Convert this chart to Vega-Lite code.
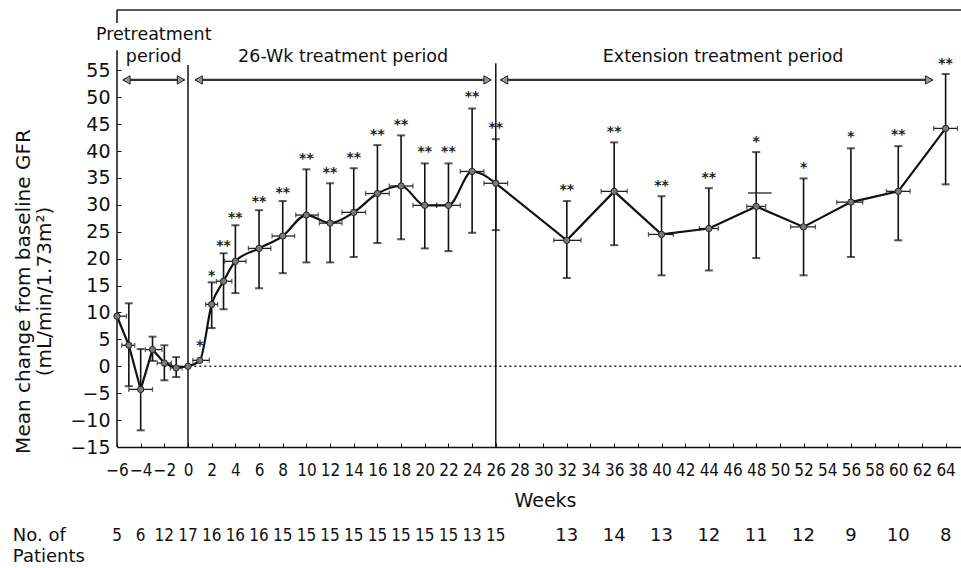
{
  "$schema": "https://vega.github.io/schema/vega-lite/v6.json",
  "width": 844,
  "height": 437,
  "autosize": {"type": "none"},
  "padding": {"left": 117, "top": 10, "right": 0, "bottom": 121},
  "background": "white",
  "config": {
    "view": {"stroke": null},
    "font": "DejaVu Sans",
    "axis": {"grid": false, "labelColor": "#111", "tickColor": "#111", "domainColor": "#111", "titleColor": "#111"},
    "axisX": {
      "domainWidth": 1.5,
      "tickSize": -4,
      "tickWidth": 1,
      "labelFont": "Liberation Sans Narrow, DejaVu Sans Condensed, sans-serif",
      "labelFontSize": 17,
      "labelBaseline": "alphabetic",
      "labelPadding": 32,
      "labelFlush": false,
      "labelOverlap": false,
      "labelBound": false,
      "titleFont": "DejaVu Sans",
      "titleFontSize": 19,
      "titleFontWeight": "normal",
      "titleX": 428,
      "titleY": 53,
      "titleBaseline": "middle"
    },
    "axisY": {
      "domain": false,
      "tickSize": -4,
      "tickWidth": 1,
      "labelFont": "DejaVu Sans",
      "labelFontSize": 19,
      "labelPadding": 11,
      "labelFlush": false,
      "labelOverlap": false,
      "labelBound": false,
      "titleFont": "DejaVu Sans",
      "titleFontSize": 20,
      "titleFontWeight": "normal",
      "titleAngle": -90,
      "titleAlign": "center",
      "titleBaseline": "top",
      "titleLineHeight": 21,
      "titleX": -104,
      "titleY": 281
    }
  },
  "datasets": {
    "series": [
      {"week": -6, "val": 9.3, "xlo": -6, "xhi": -5.2},
      {"week": -5, "val": 3.9, "lo": -3.7, "hi": 11.7, "xlo": -5.6, "xhi": -4.5},
      {"week": -4, "val": -4.3, "lo": -11.9, "hi": 3.2, "xlo": -5.0, "xhi": -3.0},
      {"week": -3, "val": 3.1, "lo": 1.0, "hi": 5.5, "xlo": -3.6, "xhi": -2.2},
      {"week": -2, "val": 0.6, "lo": -2.6, "hi": 3.9, "xlo": -2.6, "xhi": -1.4},
      {"week": -1, "val": -0.3, "lo": -2.0, "hi": 1.7, "xlo": -1.5, "xhi": -0.5},
      {"week": 0, "val": 0.0},
      {"week": 1, "val": 1.1, "xlo": 0.4, "xhi": 1.8, "sig": "*", "sigY": 4.5},
      {"week": 2, "val": 11.5, "lo": 7.1, "hi": 15.6, "xlo": 1.5, "xhi": 2.5, "sig": "*", "sigY": 17.5},
      {"week": 3, "val": 15.8, "lo": 10.6, "hi": 21.0, "xlo": 2.4, "xhi": 3.7, "sig": "**", "sigY": 23.0},
      {"week": 4, "val": 19.5, "lo": 13.6, "hi": 26.2, "xlo": 3.1, "xhi": 4.9, "sig": "**", "sigY": 28.3},
      {"week": 6, "val": 21.9, "lo": 14.5, "hi": 29.0, "xlo": 5.1, "xhi": 7.0, "sig": "**", "sigY": 31.2},
      {"week": 8, "val": 24.2, "lo": 17.3, "hi": 30.7, "xlo": 7.1, "xhi": 9.0, "sig": "**", "sigY": 33.0},
      {"week": 10, "val": 28.1, "lo": 19.3, "hi": 36.6, "xlo": 9.1, "xhi": 11.0, "sig": "**", "sigY": 39.2},
      {"week": 12, "val": 26.6, "lo": 19.3, "hi": 34.0, "xlo": 11.1, "xhi": 13.0, "sig": "**", "sigY": 36.6},
      {"week": 14, "val": 28.6, "lo": 20.3, "hi": 36.8, "xlo": 13.0, "xhi": 15.0, "sig": "**", "sigY": 39.4},
      {"week": 16, "val": 32.1, "lo": 22.9, "hi": 41.1, "xlo": 15.0, "xhi": 17.0, "sig": "**", "sigY": 43.7},
      {"week": 18, "val": 33.5, "lo": 23.6, "hi": 42.9, "xlo": 17.0, "xhi": 19.0, "sig": "**", "sigY": 45.5},
      {"week": 20, "val": 29.9, "lo": 21.9, "hi": 37.7, "xlo": 19.0, "xhi": 21.0, "sig": "**", "sigY": 40.5},
      {"week": 22, "val": 29.9, "lo": 21.4, "hi": 37.7, "xlo": 21.0, "xhi": 23.0, "sig": "**", "sigY": 40.5},
      {"week": 24, "val": 36.2, "lo": 24.8, "hi": 47.9, "xlo": 23.0, "xhi": 25.0, "sig": "**", "sigY": 50.7},
      {"week": 26, "val": 34.0, "lo": 25.3, "hi": 42.2, "xlo": 25.0, "xhi": 27.0, "sig": "**", "sigY": 45.0},
      {"week": 32, "val": 23.4, "lo": 16.4, "hi": 30.7, "xlo": 30.9, "xhi": 33.2, "sig": "**", "sigY": 33.5},
      {"week": 36, "val": 32.5, "lo": 22.5, "hi": 41.6, "xlo": 34.9, "xhi": 37.1, "sig": "**", "sigY": 44.2},
      {"week": 40, "val": 24.5, "lo": 16.9, "hi": 31.6, "xlo": 38.9, "xhi": 41.0, "sig": "**", "sigY": 34.2},
      {"week": 44, "val": 25.6, "lo": 17.8, "hi": 33.1, "xlo": 43.2, "xhi": 44.8, "sig": "**", "sigY": 35.7},
      {"week": 48, "val": 29.7, "lo": 20.1, "hi": 39.8, "xlo": 47.2, "xhi": 48.8, "sig": "*", "sigY": 42.4},
      {"week": 52, "val": 25.9, "lo": 16.9, "hi": 34.9, "xlo": 50.9, "xhi": 53.0, "sig": "*", "sigY": 37.5},
      {"week": 56, "val": 30.5, "lo": 20.3, "hi": 40.5, "xlo": 54.8, "xhi": 57.0, "sig": "*", "sigY": 43.3},
      {"week": 60, "val": 32.5, "lo": 23.4, "hi": 40.9, "xlo": 59.0, "xhi": 61.0, "sig": "**", "sigY": 43.7},
      {"week": 64, "val": 44.2, "lo": 33.8, "hi": 54.3, "xlo": 63.0, "xhi": 65.0, "sig": "**", "sigY": 56.9}
    ],
    "vrules": [
      {"week": -6, "val": -15, "val2": 58.7},
      {"week": -6, "val": 63.8, "val2": 66.2},
      {"week": 0, "val": -15, "val2": 56.0},
      {"week": 26, "val": -15, "val2": 56.3}
    ],
    "hrules": [
      {"week": -6, "week2": 65.3, "val": 66.2}
    ],
    "arrows": [
      {"week": -5.5, "week2": -0.3, "val": 53.2},
      {"week": 0.6, "week2": 25.6, "val": 53.2},
      {"week": 26.4, "week2": 62.9, "val": 53.2}
    ],
    "heads": [
      {"week": -5.2, "val": 53.2, "dir": "left"},
      {"week": -0.6, "val": 53.2, "dir": "right"},
      {"week": 0.9, "val": 53.2, "dir": "left"},
      {"week": 25.3, "val": 53.2, "dir": "right"},
      {"week": 26.7, "val": 53.2, "dir": "left"},
      {"week": 62.6, "val": 53.2, "dir": "right"}
    ],
    "labels": [
      {"week": -2.9, "val": 61.5, "text": "Pretreatment"},
      {"week": -2.9, "val": 57.4, "text": "period"},
      {"week": 13.1, "val": 57.4, "text": "26-Wk treatment period"},
      {"week": 45.2, "val": 57.4, "text": "Extension treatment period"}
    ],
    "patients": [
      {"week": -6, "n": "5", "grp": "main"},
      {"week": -4, "n": "6", "grp": "main"},
      {"week": -2, "n": "12", "grp": "main"},
      {"week": 0, "n": "17", "grp": "main"},
      {"week": 2, "n": "16", "grp": "main"},
      {"week": 4, "n": "16", "grp": "main"},
      {"week": 6, "n": "16", "grp": "main"},
      {"week": 8, "n": "15", "grp": "main"},
      {"week": 10, "n": "15", "grp": "main"},
      {"week": 12, "n": "15", "grp": "main"},
      {"week": 14, "n": "15", "grp": "main"},
      {"week": 16, "n": "15", "grp": "main"},
      {"week": 18, "n": "15", "grp": "main"},
      {"week": 20, "n": "15", "grp": "main"},
      {"week": 22, "n": "15", "grp": "main"},
      {"week": 24, "n": "13", "grp": "main"},
      {"week": 26, "n": "15", "grp": "main"},
      {"week": 32, "n": "13", "grp": "ext"},
      {"week": 36, "n": "14", "grp": "ext"},
      {"week": 40, "n": "13", "grp": "ext"},
      {"week": 44, "n": "12", "grp": "ext"},
      {"week": 48, "n": "11", "grp": "ext"},
      {"week": 52, "n": "12", "grp": "ext"},
      {"week": 56, "n": "9", "grp": "ext"},
      {"week": 60, "n": "10", "grp": "ext"},
      {"week": 64, "n": "8", "grp": "ext"}
    ]
  },
  "layer": [
    {
      "encoding": {
        "x": {
          "field": "week", "type": "quantitative",
          "scale": {"domain": [-6, 65.3], "nice": false, "zero": false},
          "axis": {"title": "Weeks", "values": [-6, -4, -2, 0, 2, 4, 6, 8, 10, 12, 14, 16, 18, 20, 22, 24, 26, 28, 30, 32, 34, 36, 38, 40, 42, 44, 46, 48, 50, 52, 54, 56, 58, 60, 62, 64]}
        },
        "y": {
          "field": "val", "type": "quantitative",
          "scale": {"domain": [-15, 66.2], "nice": false, "zero": false},
          "axis": {"title": ["Mean change from baseline GFR", "(mL/min/1.73m²)"], "values": [-15, -10, -5, 0, 5, 10, 15, 20, 25, 30, 35, 40, 45, 50, 55]}
        }
      },
      "layer": [
        {
          "data": {"name": "hrules"},
          "mark": {"type": "rule", "color": "#222", "strokeWidth": 1.5},
          "encoding": {"x2": {"field": "week2"}}
        },
        {
          "data": {"name": "vrules"},
          "mark": {"type": "rule", "color": "#111", "strokeWidth": 1.5},
          "encoding": {"y2": {"field": "val2"}}
        },
        {
          "data": {"values": [{"week": -2, "week2": 65.3, "val": 0}]},
          "mark": {"type": "rule", "color": "#222", "strokeWidth": 1.3, "strokeDash": [2, 3]},
          "encoding": {"x2": {"field": "week2"}}
        },
        {
          "data": {"name": "arrows"},
          "mark": {"type": "rule", "color": "#333", "strokeWidth": 2.2},
          "encoding": {"x2": {"field": "week2"}}
        },
        {
          "data": {"name": "heads"},
          "mark": {"type": "point", "filled": true, "fill": "#999", "stroke": "#222", "strokeWidth": 1, "size": 70, "opacity": 1},
          "encoding": {
            "shape": {"field": "dir", "type": "nominal", "scale": {"domain": ["left", "right"], "range": ["triangle-left", "triangle-right"]}, "legend": null}
          }
        },
        {
          "data": {"name": "series"},
          "transform": [{"filter": "isValid(datum.lo)"}],
          "mark": {"type": "rule", "color": "#111", "strokeWidth": 1.6},
          "encoding": {
            "y": {"field": "lo", "type": "quantitative", "scale": {"domain": [-15, 66.2], "nice": false, "zero": false}},
            "y2": {"field": "hi"}
          }
        },
        {
          "data": {"name": "series"},
          "transform": [{"filter": "isValid(datum.lo)"}, {"fold": ["lo", "hi"], "as": ["end", "cap"]}],
          "mark": {"type": "tick", "orient": "horizontal", "color": "#111", "size": 8, "thickness": 2},
          "encoding": {
            "y": {"field": "cap", "type": "quantitative", "scale": {"domain": [-15, 66.2], "nice": false, "zero": false}}
          }
        },
        {
          "data": {"name": "series"},
          "transform": [{"filter": "isValid(datum.xlo)"}],
          "mark": {"type": "rule", "color": "#222", "strokeWidth": 1.3},
          "encoding": {
            "x": {"field": "xlo", "type": "quantitative", "scale": {"domain": [-6, 65.3], "nice": false, "zero": false}},
            "x2": {"field": "xhi"}
          }
        },
        {
          "data": {"name": "series"},
          "transform": [{"filter": "isValid(datum.xlo)"}, {"fold": ["xlo", "xhi"], "as": ["side", "xend"]}],
          "mark": {"type": "tick", "orient": "vertical", "color": "#222", "size": 5, "thickness": 1.3},
          "encoding": {
            "x": {"field": "xend", "type": "quantitative", "scale": {"domain": [-6, 65.3], "nice": false, "zero": false}}
          }
        },
        {
          "data": {"values": [{"week": 47.3, "week2": 49.3, "val": 32.2}]},
          "mark": {"type": "rule", "color": "#222", "strokeWidth": 1.3},
          "encoding": {"x2": {"field": "week2"}}
        },
        {
          "data": {"name": "series"},
          "transform": [{"filter": "datum.week <= 0"}],
          "mark": {"type": "line", "color": "#111", "strokeWidth": 2.2},
          "encoding": {}
        },
        {
          "data": {"name": "series"},
          "transform": [{"filter": "datum.week >= 0 && datum.week <= 26"}],
          "mark": {"type": "line", "color": "#111", "strokeWidth": 2.2, "interpolate": "monotone"},
          "encoding": {}
        },
        {
          "data": {"name": "series"},
          "transform": [{"filter": "datum.week >= 26"}],
          "mark": {"type": "line", "color": "#111", "strokeWidth": 2.2},
          "encoding": {}
        },
        {
          "data": {"name": "series"},
          "mark": {"type": "point", "shape": "circle", "filled": true, "fill": "#7a7a7a", "stroke": "#222", "strokeWidth": 1, "size": 40, "opacity": 1},
          "encoding": {}
        },
        {
          "data": {"name": "series"},
          "transform": [{"filter": "isValid(datum.sig)"}],
          "mark": {"type": "text", "font": "DejaVu Sans", "fontSize": 14, "fontWeight": "bold", "color": "#222", "baseline": "alphabetic", "dy": 8},
          "encoding": {
            "y": {"field": "sigY", "type": "quantitative", "scale": {"domain": [-15, 66.2], "nice": false, "zero": false}},
            "text": {"field": "sig"}
          }
        },
        {
          "data": {"name": "labels"},
          "mark": {"type": "text", "font": "DejaVu Sans", "fontSize": 17.5, "color": "#111", "baseline": "middle", "align": "center"},
          "encoding": {"text": {"field": "text"}}
        }
      ]
    },
    {
      "data": {"name": "patients"},
      "transform": [{"filter": "datum.grp === 'main'"}],
      "mark": {"type": "text", "font": "Liberation Sans Narrow, DejaVu Sans Condensed, sans-serif", "fontSize": 17, "color": "#111", "baseline": "alphabetic", "align": "center"},
      "encoding": {
        "x": {"field": "week", "type": "quantitative", "scale": {"domain": [-6, 65.3], "nice": false, "zero": false}, "axis": {"title": "Weeks", "values": [-6, -4, -2, 0, 2, 4, 6, 8, 10, 12, 14, 16, 18, 20, 22, 24, 26, 28, 30, 32, 34, 36, 38, 40, 42, 44, 46, 48, 50, 52, 54, 56, 58, 60, 62, 64]}},
        "y": {"datum": -32.4, "type": "quantitative", "scale": {"domain": [-15, 66.2], "nice": false, "zero": false}, "axis": {"title": ["Mean change from baseline GFR", "(mL/min/1.73m²)"], "values": [-15, -10, -5, 0, 5, 10, 15, 20, 25, 30, 35, 40, 45, 50, 55]}},
        "text": {"field": "n"}
      }
    },
    {
      "data": {"name": "patients"},
      "transform": [{"filter": "datum.grp === 'ext'"}],
      "mark": {"type": "text", "font": "DejaVu Sans", "fontSize": 18, "color": "#111", "baseline": "alphabetic", "align": "center"},
      "encoding": {
        "x": {"field": "week", "type": "quantitative", "scale": {"domain": [-6, 65.3], "nice": false, "zero": false}, "axis": {"title": "Weeks", "values": [-6, -4, -2, 0, 2, 4, 6, 8, 10, 12, 14, 16, 18, 20, 22, 24, 26, 28, 30, 32, 34, 36, 38, 40, 42, 44, 46, 48, 50, 52, 54, 56, 58, 60, 62, 64]}},
        "y": {"datum": -32.4, "type": "quantitative", "scale": {"domain": [-15, 66.2], "nice": false, "zero": false}, "axis": {"title": ["Mean change from baseline GFR", "(mL/min/1.73m²)"], "values": [-15, -10, -5, 0, 5, 10, 15, 20, 25, 30, 35, 40, 45, 50, 55]}},
        "text": {"field": "n"}
      }
    },
    {
      "data": {"values": [{"caption": "No. of\nPatients"}]},
      "mark": {"type": "text", "font": "DejaVu Sans", "fontSize": 18, "color": "#111", "baseline": "alphabetic", "align": "left", "lineBreak": "\n", "lineHeight": 21},
      "encoding": {
        "x": {"datum": -14.8, "type": "quantitative", "scale": {"domain": [-6, 65.3], "nice": false, "zero": false}, "axis": {"title": "Weeks", "values": [-6, -4, -2, 0, 2, 4, 6, 8, 10, 12, 14, 16, 18, 20, 22, 24, 26, 28, 30, 32, 34, 36, 38, 40, 42, 44, 46, 48, 50, 52, 54, 56, 58, 60, 62, 64]}},
        "y": {"datum": -32.4, "type": "quantitative", "scale": {"domain": [-15, 66.2], "nice": false, "zero": false}, "axis": {"title": ["Mean change from baseline GFR", "(mL/min/1.73m²)"], "values": [-15, -10, -5, 0, 5, 10, 15, 20, 25, 30, 35, 40, 45, 50, 55]}},
        "text": {"field": "caption"}
      }
    }
  ]
}
